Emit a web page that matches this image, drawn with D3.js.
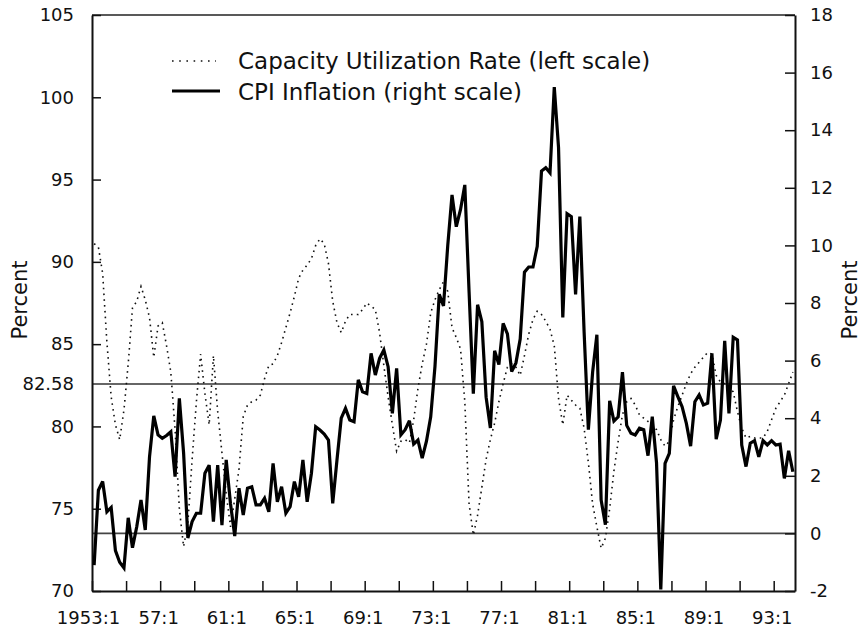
<!DOCTYPE html>
<html><head><meta charset="utf-8">
<script src="https://cdn.jsdelivr.net/npm/d3@7"></script>
<style>
html,body{margin:0;padding:0;background:#fff;}
svg text{font-family:"DejaVu Sans",sans-serif;fill:#111;}
</style></head>
<body>
<svg id="chart" width="863" height="629"></svg>
<script>
// ---------------- data ----------------
const startYear = 1953;           // first observation 1953:1, quarterly
const capacityUtil = [ // left scale, percent
91.1,90.9,89.3,85.1,81.8,80.1,79.2,81.0,83.8,87.2,87.6,88.5,87.7,86.6,84.2,86.1,86.3,84.9,83.3,79.8,
75.0,72.7,74.1,78.0,81.5,84.4,82.0,80.1,84.3,80.9,78.4,75.9,73.9,75.6,77.4,80.6,81.3,81.5,81.6,81.9,
82.9,83.7,83.8,84.3,85.1,86.0,86.9,87.9,89.0,89.5,89.8,90.2,91.0,91.4,91.1,89.9,87.6,86.3,85.7,86.4,
86.8,86.8,86.8,87.1,87.5,87.3,87.1,85.7,83.7,81.8,80.1,78.5,79.1,79.2,79.0,80.4,82.3,83.8,85.0,86.9,
87.7,88.3,88.8,88.2,86.0,85.4,84.7,81.5,75.3,73.4,74.6,76.3,78.0,79.2,80.2,81.5,82.6,83.6,83.8,83.6,
83.1,84.3,85.6,86.5,87.0,86.8,86.4,85.9,84.9,81.7,80.1,81.9,81.6,81.3,81.1,79.9,77.8,75.3,73.9,72.6,
73.2,75.0,77.3,79.1,80.7,81.5,81.7,81.3,80.7,80.5,80.3,80.1,79.8,79.2,78.8,79.1,80.4,81.2,81.9,82.6,
83.2,83.6,83.9,84.2,84.5,84.4,83.1,82.7,82.6,82.4,82.1,80.9,79.9,79.3,79.4,79.3,79.3,79.3,79.7,80.4,
81.1,81.5,81.9,82.6,83.3];
const cpiInflation = [ // right scale, percent
-1.1,1.5,1.8,0.75,0.9,-0.6,-1.0,-1.2,0.54,-0.5,0.23,1.16,0.12,2.66,4.08,3.42,3.3,3.4,3.53,1.97,
4.69,2.79,-0.16,0.41,0.7,0.7,2.09,2.37,0.41,2.37,0.29,2.55,1.04,-0.09,1.57,0.64,1.57,1.62,0.99,0.99,
1.22,0.75,2.43,1.1,1.62,0.7,0.93,1.8,1.27,2.55,1.1,2.09,3.7,3.59,3.45,3.24,1.04,2.55,4.0,4.34,
3.94,3.88,5.33,4.92,4.86,6.25,5.5,6.08,6.37,5.79,4.17,5.73,3.42,3.6,3.91,3.1,3.24,2.61,3.2,4.05,
5.8,8.3,7.9,10.0,11.75,10.65,11.25,12.1,8.4,4.85,7.94,7.35,4.73,3.66,6.34,5.86,7.29,6.93,5.62,5.92,
6.75,9.07,9.25,9.25,9.97,12.58,12.7,12.52,15.5,13.4,7.5,11.1,11.0,8.3,11.0,7.0,3.6,5.6,6.9,1.16,
0.3,4.6,3.9,4.05,5.6,3.75,3.48,3.42,3.65,3.6,2.7,4.05,2.45,-1.95,2.43,2.78,5.12,4.75,4.4,3.82,
3.03,4.57,4.81,4.46,4.52,6.25,3.27,3.94,6.69,4.17,6.81,6.72,3.07,2.32,3.13,3.22,2.66,3.22,3.07,3.22,
3.07,3.1,1.91,2.87,2.14];
const quarters = capacityUtil.map((d, i) => (startYear + Math.floor(i / 4)) + ":" + (i % 4 + 1));
const xTickYears = [1953,1955,1957,1959,1961,1963,1965,1967,1969,1971,1973,1975,1977,1979,1981,1983,1985,1987,1989,1991,1993];
const xLabelYears = [1953,1957,1961,1965,1969,1973,1977,1981,1985,1989,1993];
const xLabels = ["1953:1","57:1","61:1","65:1","69:1","73:1","77:1","81:1","85:1","89:1","93:1"];
const leftTicks = [70,75,80,85,90,95,100,105];
const rightTicks = [-2,0,2,4,6,8,10,12,14,16,18];
const cuMean = 82.58;      // reference line, left scale
const cpiZero = 0;         // reference line, right scale
const legendItems = ["Capacity Utilization Rate (left scale)", "CPI Inflation (right scale)"];

// ---------------- layout ----------------
const W = 863, H = 629;
const m = {left: 92, right: 68, top: 15, bottom: 38};
const svg = d3.select("#chart");

const quarterTime = s => { const [y, q] = s.split(":").map(Number); return y + (q - 1) / 4 + 0.125; };
const x = d3.scaleLinear().domain([1953, 1994.25]).range([m.left, W - m.right]);
const yL = d3.scaleLinear().domain([70, 105]).range([H - m.bottom, m.top]);
const yR = d3.scaleLinear().domain([-2, 18]).range([H - m.bottom, m.top]);

// frame (top border)
svg.append("line").attr("x1", x.range()[0]).attr("x2", x.range()[1])
  .attr("y1", m.top).attr("y2", m.top).attr("stroke", "#222").attr("stroke-width", 1.5);

// reference lines
svg.append("line").attr("x1", x.range()[0]).attr("x2", x.range()[1])
  .attr("y1", yL(cuMean)).attr("y2", yL(cuMean)).attr("stroke", "#333").attr("stroke-width", 1.5);
svg.append("line").attr("x1", x.range()[0]).attr("x2", x.range()[1])
  .attr("y1", yR(cpiZero)).attr("y2", yR(cpiZero)).attr("stroke", "#444").attr("stroke-width", 1.8);

// axes
const axL = d3.axisLeft(yL).tickValues(leftTicks).tickSizeInner(-9).tickSizeOuter(0).tickPadding(18).tickFormat(d => String(d));
const gL = svg.append("g").attr("transform", `translate(${m.left},0)`).call(axL);
const axR = d3.axisRight(yR).tickValues(rightTicks).tickSizeInner(-10).tickSizeOuter(0).tickPadding(15).tickFormat(d => String(d));
const gR = svg.append("g").attr("transform", `translate(${W - m.right},0)`).call(axR);
const axB = d3.axisBottom(x).tickValues(xTickYears).tickSizeInner(-10).tickSizeOuter(0).tickPadding(20)
  .tickFormat(d => { const k = xLabelYears.indexOf(d); return k >= 0 ? xLabels[k] : ""; });
const gB = svg.append("g").attr("transform", `translate(0,${H - m.bottom})`).call(axB);

[gL, gR, gB].forEach(g => {
  g.select(".domain").attr("stroke", "#111").attr("stroke-width", 2);
  g.selectAll(".tick line").attr("stroke", "#111").attr("stroke-width", 1.5);
  g.selectAll(".tick text").style("font-size", "18px").attr("fill", "#111");
});
gB.selectAll(".tick text").attr("dx", (d, i) => d === 1953 ? -4 : -2);

// extra left label for the mean line
gL.append("text").attr("x", -18).attr("y", yL(cuMean)).attr("dy", "0.32em")
  .attr("text-anchor", "end").style("font-size", "18px").attr("fill", "#111").text(cuMean.toFixed(2));

// axis titles
svg.append("text").attr("transform", `translate(27,300) rotate(-90)`).attr("text-anchor", "middle")
  .style("font-size", "21px").text("Percent");
svg.append("text").attr("transform", `translate(857,300) rotate(-90)`).attr("text-anchor", "middle")
  .style("font-size", "21px").text("Percent");

// lines
const lineCU = d3.line().x((d, i) => x(quarterTime(quarters[i]))).y(d => yL(d));
const lineCPI = d3.line().x((d, i) => x(quarterTime(quarters[i]))).y(d => yR(d));

svg.append("path").datum(capacityUtil).attr("d", lineCU).attr("fill", "none")
  .attr("stroke", "#111").attr("stroke-width", 1.6).attr("stroke-dasharray", "1.6,4.2");
svg.append("path").datum(cpiInflation).attr("d", lineCPI).attr("fill", "none")
  .attr("stroke", "#000").attr("stroke-width", 3.2).attr("stroke-linejoin", "miter").attr("stroke-miterlimit", 3);

// legend
const lg = svg.append("g");
lg.append("line").attr("x1", 172).attr("x2", 216).attr("y1", 61).attr("y2", 61)
  .attr("stroke", "#111").attr("stroke-width", 1.6).attr("stroke-dasharray", "1.6,5.6");
lg.append("line").attr("x1", 172).attr("x2", 220).attr("y1", 91).attr("y2", 91)
  .attr("stroke", "#000").attr("stroke-width", 3.2);
lg.append("text").attr("x", 238).attr("y", 69).style("font-size", "23px").text(legendItems[0]);
lg.append("text").attr("x", 238).attr("y", 100).style("font-size", "23px").text(legendItems[1]);
</script>
</body></html>
